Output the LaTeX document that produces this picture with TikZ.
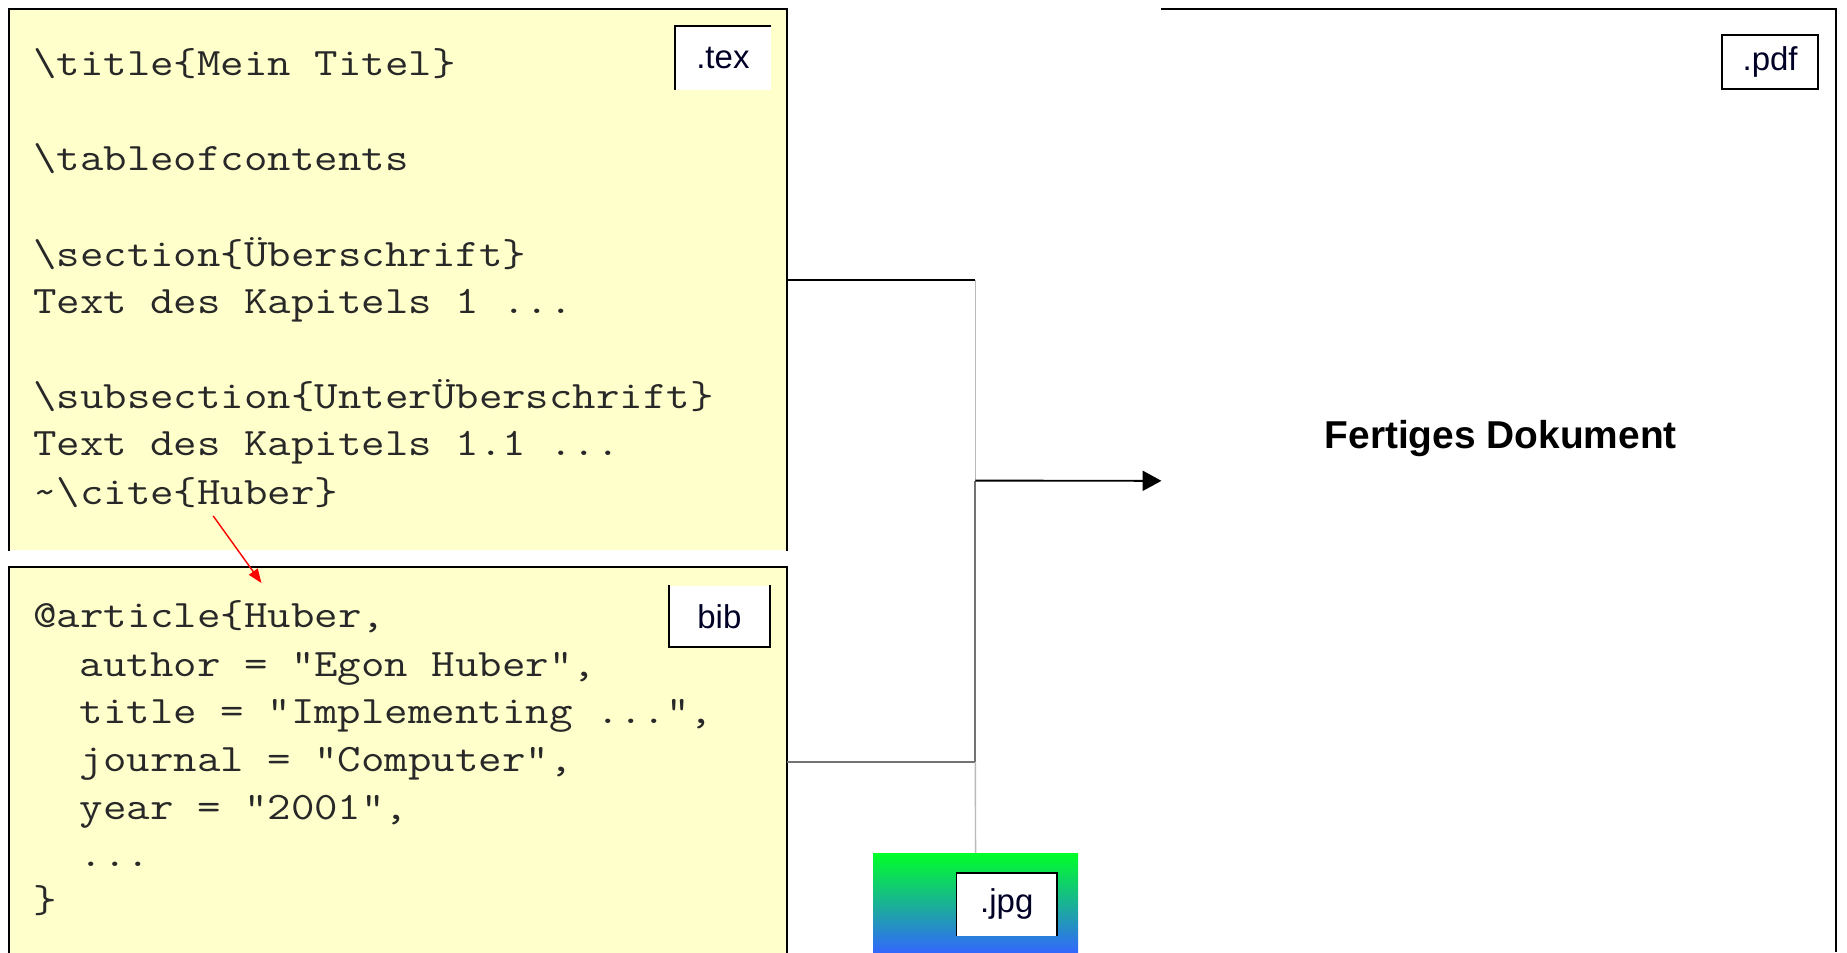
\documentclass[tikz,border=0pt]{standalone}
\usepackage{fontspec}
\usepackage{graphicx}
\setmainfont{Liberation Sans}
\usetikzlibrary{arrows.meta}
\definecolor{codeyellow}{RGB}{255,255,204}
\definecolor{codetext}{RGB}{40,40,40}
\definecolor{jgreen}{RGB}{0,255,40}
\definecolor{jblue}{RGB}{51,102,255}
\definecolor{lightline}{RGB}{185,185,185}
\definecolor{midline}{RGB}{115,115,115}
\newcommand\codeline[1]{\scalebox{1.172}[1]{#1}}
\begin{document}
\begin{tikzpicture}[x=1pt,y=1pt,
  panel/.style={fill=codeyellow, draw=none, inner sep=0pt, minimum width=660pt, anchor=north west},
  border/.style={line width=1.6pt, black},
  code/.style={anchor=base west, inner sep=0pt, text=codetext, font=\ttfamily\fontsize{33}{40}\selectfont},
  lbl/.style={fill=white, inner sep=0pt, anchor=north west, text=black!85!blue, font=\fontsize{28}{30}\selectfont},
  mainline/.style={line width=1.6pt, black},
  thinline/.style={line width=1.2pt, lightline},
  greyline/.style={line width=1.5pt, midline}]
\useasboundingbox (0,0) rectangle (1568,-809);

% boxes
\node[panel, minimum height=459pt] (tex) at (8,-8) {};
\node[panel, minimum height=332pt] (bib) at (8,-481) {};
\node[inner sep=0pt, minimum width=572pt, minimum height=800pt, anchor=north west] (pdf) at (986,-8) {};
\node[inner sep=0pt, minimum width=174pt, minimum height=85pt, anchor=north west,
      top color=jgreen, bottom color=jblue, draw=none] (jpg) at (741,-724) {};

\draw[border] (tex.south west) -- (tex.north west) -- (tex.north east) -- (tex.south east);
\draw[border] (bib.south west) -- (bib.north west) -- (bib.north east) -- (bib.south east);
\draw[border] (pdf.north west) -- (pdf.north east) -- (pdf.south east);

% tex code
\node[code] (t1) at (28,-64) {\codeline{\textbackslash title\{Mein Titel\}}};
\node[code] (t2) at (28,-145) {\codeline{\textbackslash tableofcontents}};
\node[code] (t3) at (28,-226) {\codeline{\textbackslash section\{Überschrift\}}};
\node[code] (t4) at (28,-266) {\codeline{Text des Kapitels 1 ...}};
\node[code] (t5) at (28,-347) {\codeline{\textbackslash subsection\{UnterÜberschrift\}}};
\node[code] (t6) at (28,-387) {\codeline{Text des Kapitels 1.1 ...}};
\node[code] (t7) at (28,-428) {\codeline{\textasciitilde\textbackslash cite\{Huber\}}};

% bib code
\node[code] (b1) at (28,-533) {\codeline{@article\{Huber,}};
\node[code] (b2) at (67.6,-574) {\codeline{author = "Egon Huber",}};
\node[code] (b3) at (67.6,-614) {\codeline{title = "Implementing ...",}};
\node[code] (b4) at (67.6,-655) {\codeline{journal = "Computer",}};
\node[code] (b5) at (67.6,-696) {\codeline{year = "2001",}};
\node[code] (b6) at (67.6,-736) {\codeline{...}};
\node[code] (b7) at (28,-775) {\codeline{\}}};

% labels
\node[lbl, minimum width=81pt, minimum height=54pt] (texlbl) at (573,-22) {.tex};
\draw[border] (texlbl.south west) -- (texlbl.north west) -- (texlbl.north east);
\node[lbl, minimum width=85pt, minimum height=52pt] (biblbl) at (568,-497) {bib};
\draw[border] (biblbl.north west) -- (biblbl.south west) -- (biblbl.south east) -- (biblbl.north east);
\node[lbl, minimum width=81pt, minimum height=45pt] (pdflbl) at (1462,-30) {.pdf};
\draw[border] (pdflbl.north west) rectangle (pdflbl.south east);
\node[lbl, minimum width=85pt, minimum height=53pt] (jpglbl) at (812,-741) {.jpg};
\draw[border] (jpglbl.south west) -- (jpglbl.north west) -- (jpglbl.north east) -- (jpglbl.south east);

\node[anchor=base, inner sep=0pt, font=\bfseries\fontsize{33}{36}\selectfont] (fd) at (1274,-381) {Fertiges Dokument};

% connectors
\coordinate (j) at (828,-408);
\draw[mainline] (tex.east) -- (tex.east -| j) coordinate (jt);
\draw[thinline] (jt) -- (j);
\draw[greyline] (j) -- (bib.east -| j);
\draw[greyline] (bib.east) -- (bib.east -| j) coordinate (jb);
\draw[thinline] (jb) -- (jpg.north);
\draw[mainline, -{Triangle[length=16pt,width=17pt]}] (j) -- (pdf.west);

\coordinate (citept) at (181,-438);
\coordinate (bibref) at (222,-495);
\draw[red, line width=1.2pt, -{Triangle[length=12pt,width=9pt]}] (citept) -- (bibref);
\end{tikzpicture}
\end{document}
